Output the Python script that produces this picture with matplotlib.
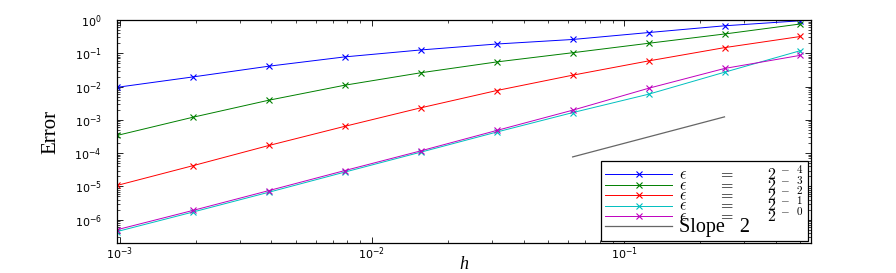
import numpy as np
import matplotlib
matplotlib.use("Agg")
import matplotlib.pyplot as plt
from matplotlib.font_manager import FontProperties

# mesh sizes h = 2^-10 ... 2^-1
h = [2**-10, 2**-9, 2**-8, 2**-7, 2**-6, 2**-5, 2**-4, 2**-3, 2**-2, 2**-1]

err_eps_m4 = [0.0095, 0.0195, 0.041, 0.078, 0.126, 0.19, 0.26, 0.42, 0.67, 0.95]
err_eps_m3 = [3.4e-4, 1.2e-3, 3.9e-3, 0.011, 0.026, 0.055, 0.104, 0.20, 0.38, 0.76]
err_eps_m2 = [1.07e-5, 4.2e-5, 1.7e-4, 6.4e-4, 2.3e-3, 7.6e-3, 0.022, 0.059, 0.148, 0.32]
err_eps_m1 = [4.4e-7, 1.7e-6, 6.7e-6, 2.7e-5, 1.07e-4, 4.3e-4, 1.65e-3, 5.9e-3, 0.027, 0.12]
err_eps_0 = [5.0e-7, 1.9e-6, 7.5e-6, 3.0e-5, 1.17e-4, 4.8e-4, 1.95e-3, 8.9e-3, 0.035, 0.087]

slope_h = [0.0625, 0.25]
slope_err = [7.7e-5, 1.23e-3]

labels = [r'$\epsilon\qquad\;=\qquad\;2^{\;-\;\;4}$', r'$\epsilon\qquad\;=\qquad\;2^{\;-\;\;3}$',
          r'$\epsilon\qquad\;=\qquad\;2^{\;-\;\;2}$', r'$\epsilon\qquad\;=\qquad\;2^{\;-\;\;1}$',
          r'$\epsilon\qquad\;=\qquad\;2^{\;-\;\;0}$', 'Slope   2']
colors = [(0, 0, 1), (0, 0.5, 0), (1, 0, 0), (0, 0.75, 0.75), (0.75, 0, 0.75)]
series = [err_eps_m4, err_eps_m3, err_eps_m2, err_eps_m1, err_eps_0]

fig = plt.figure(figsize=(8.96, 2.73), dpi=100)
ax = fig.add_axes([0.1306, 0.11, 0.7744, 0.8167])

for s, c, lab in zip(series, colors, labels[:5]):
    ax.loglog(h, s, '-x', color=c, lw=0.7, ms=5, mew=0.8, label=lab)
ax.loglog(slope_h, slope_err, '-', color=(0.4, 0.4, 0.4), lw=0.9, label=labels[5])

ax.set_xlim(2**-10, 0.55)
ax.set_ylim(2e-7, 1)

ax.tick_params(which='both', direction='in', top=True, right=True, labelsize=8)
ax.tick_params(which='major', length=4, width=0.6)
ax.tick_params(which='minor', length=2, width=0.5)
ax.tick_params(axis='x', which='both', pad=1.5)
ax.tick_params(axis='y', which='both', pad=11)
for sp in ax.spines.values():
    sp.set_linewidth(0.9)

ax.set_xlabel('h', family='Liberation Serif', fontstyle='italic', fontsize=13, labelpad=-4)
ax.set_ylabel('Error', family='Liberation Serif', fontsize=15, labelpad=10)

prop = FontProperties(family='Liberation Serif', size=11.5, math_fontfamily='cm')
leg = ax.legend(loc='lower right', prop=prop, labelspacing=-0.5, handlelength=4.2,
                handletextpad=0.45, borderpad=0.25, borderaxespad=0.15,
                fancybox=False, framealpha=1, edgecolor='black')
leg.get_frame().set_linewidth(0.9)
leg.get_texts()[5].set_fontsize(14.5)

fig.savefig('out.png', dpi=100)
